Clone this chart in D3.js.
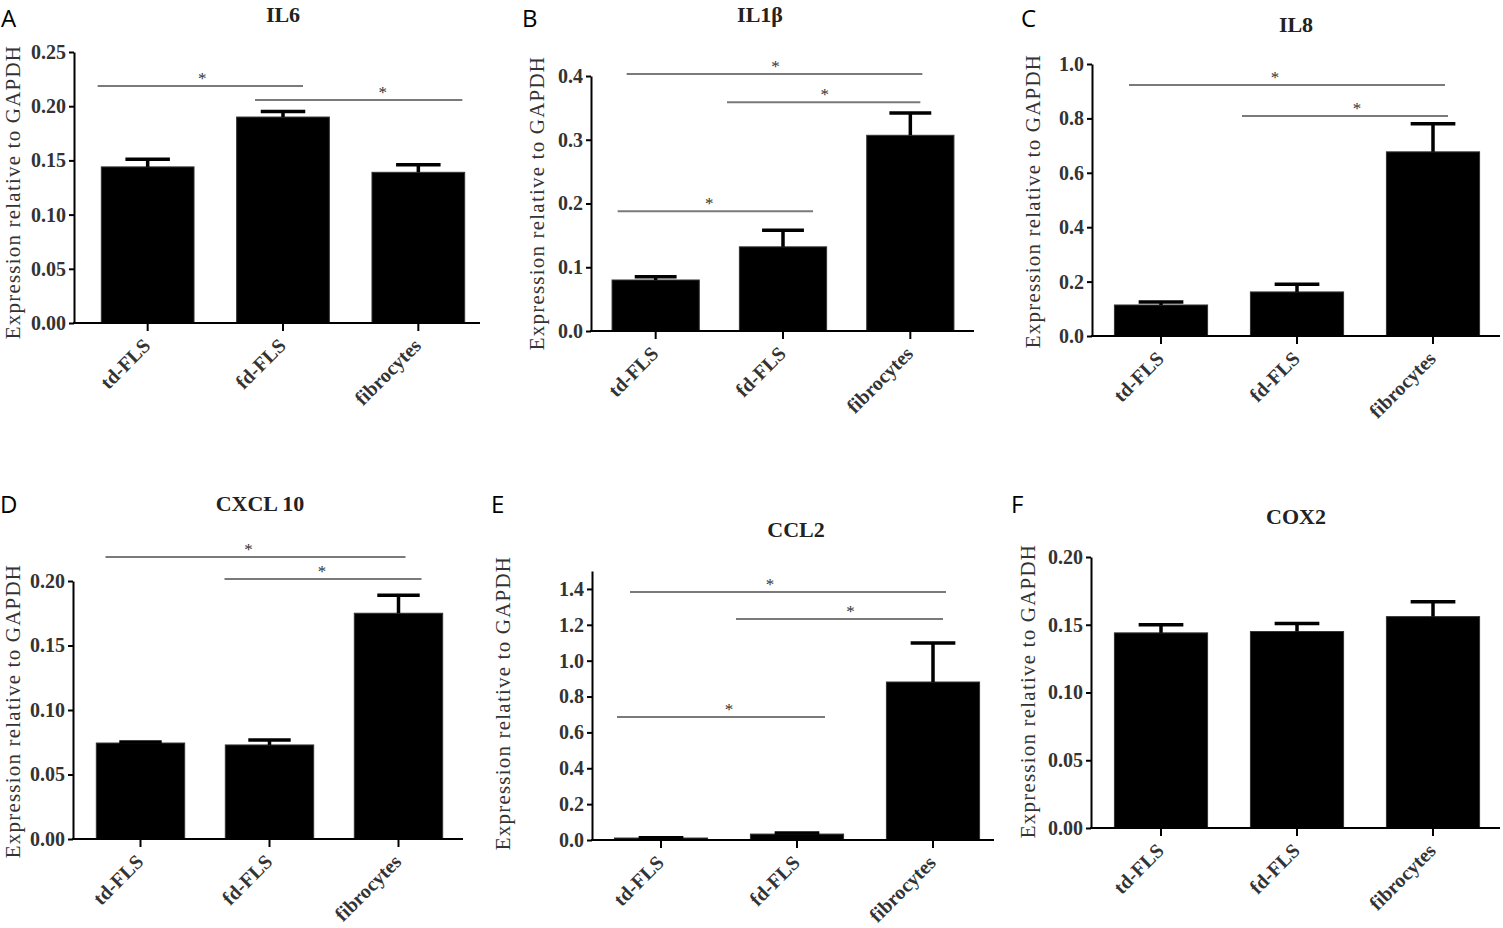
<!DOCTYPE html>
<html>
<head>
<meta charset="utf-8">
<script src="https://cdn.jsdelivr.net/npm/d3@7/dist/d3.min.js"></script>
<style>
  body { margin: 0; background: #fff; }
  svg { display: block; }
</style>
</head>
<body>
<div id="figure"></div>
<script>
// data (mean and SEM, relative to GAPDH)
const categories = ["td-FLS", "fd-FLS", "fibrocytes"];
const titles = ["IL6", "IL1β", "IL8", "CXCL 10", "CCL2", "COX2"];
const letters = ["A", "B", "C", "D", "E", "F"];

const il6Mean = [0.144, 0.190, 0.139];
const il6Sem = [0.007, 0.005, 0.007];
const il1bMean = [0.080, 0.132, 0.307];
const il1bSem = [0.005, 0.026, 0.035];
const il8Mean = [0.114, 0.162, 0.677];
const il8Sem = [0.011, 0.028, 0.103];
const cxcl10Mean = [0.0744, 0.0729, 0.175];
const cxcl10Sem = [0.0008, 0.0038, 0.014];
const ccl2Mean = [0.011, 0.033, 0.881];
const ccl2Sem = [0.002, 0.006, 0.217];
const cox2Mean = [0.144, 0.145, 0.156];
const cox2Sem = [0.006, 0.006, 0.011];

const ticks020 = [0, 0.05, 0.10, 0.15, 0.20];
const ticks025 = [0, 0.05, 0.10, 0.15, 0.20, 0.25];
const ticks04 = [0, 0.1, 0.2, 0.3, 0.4];
const ticks10 = [0, 0.2, 0.4, 0.6, 0.8, 1.0];
const ticks14 = [0, 0.2, 0.4, 0.6, 0.8, 1.0, 1.2, 1.4];

// significant comparisons (indexes into categories)
const sigIL6 = [[0, 1], [1, 2]];
const sigIL1b = [[0, 2], [1, 2], [0, 1]];
const sigIL8 = [[0, 2], [1, 2]];
const sigCXCL10 = [[0, 2], [1, 2]];
const sigCCL2 = [[0, 2], [1, 2], [0, 1]];
const sigCOX2 = [];

const yLabel = "Expression relative to GAPDH";

const W = 1503, H = 928;
const svg = d3.select("#figure").append("svg")
  .attr("width", W)
  .attr("height", H);

// panel layout: axis placement, band range, text positions, bracket geometry
const panels = [
  {mean: il6Mean, sem: il6Sem, ticks: ticks025, fmt: ".2f", max: 0.25, sig: sigIL6,
   ax: 74, axEnd: 480, y0: 323, yTop: 52, band: [80, 486],
   title: [283, 22], letter: [1, 27], ylab: [20, 192],
   br: [[0.2186, -50, 20, 2], [0.2057, -28, 44, 24]]},
  {mean: il1bMean, sem: il1bSem, ticks: ticks04, fmt: ".1f", max: 0.4, sig: sigIL1b,
   ax: 591, axEnd: 974, y0: 331, yTop: 76, band: [592, 974],
   title: [760, 22], letter: [522, 27], ylab: [544, 203],
   br: [[0.403, -29, 12, 1], [0.359, -56, 10, 1], [0.188, -38, 30, -6]]},
  {mean: il8Mean, sem: il8Sem, ticks: ticks10, fmt: ".1f", max: 1.0, sig: sigIL8,
   ax: 1092, axEnd: 1500, y0: 336, yTop: 64, band: [1093, 1501],
   title: [1296, 32], letter: [1021, 27], ylab: [1040, 201],
   br: [[0.923, -32, 12, -12], [0.809, -55, 15, 12]]},
  {mean: cxcl10Mean, sem: cxcl10Sem, ticks: ticks020, fmt: ".2f", max: 0.20, sig: sigCXCL10,
   ax: 73, axEnd: 463, y0: 839, yTop: 581, band: [76, 463],
   title: [260, 511], letter: [0, 513], ylab: [20, 711],
   br: [[0.2186, -35, 7, -7], [0.2016, -45, 23, -1]]},
  {mean: ccl2Mean, sem: ccl2Sem, ticks: ticks14, fmt: ".1f", max: 1.5, sig: sigCCL2,
   ax: 592, axEnd: 994, y0: 840, yTop: 571, band: [593, 1001],
   title: [796, 537], letter: [491, 513], ylab: [510, 703],
   br: [[1.383, -31, 13, -18], [1.233, -61, 10, 11], [0.686, -44, 28, 8]]},
  {mean: cox2Mean, sem: cox2Sem, ticks: ticks020, fmt: ".2f", max: 0.20, sig: sigCOX2,
   ax: 1091, axEnd: 1500, y0: 828, yTop: 557, band: [1093, 1501],
   title: [1296, 524], letter: [1011, 513], ylab: [1035, 691],
   br: []}
];

const serif = "'Liberation Serif', 'Times New Roman', serif";

panels.forEach((p, i) => {
  let g = svg.append("g");

  let x = d3.scaleBand()
    .domain(categories)
    .range(p.band)
    .paddingInner(0.315)
    .paddingOuter(0.1575);

  let y = d3.scaleLinear()
    .domain([0, p.max])
    .range([p.y0, p.yTop]);

  let bars = categories.map((c, j) => ({cat: c, mean: p.mean[j], sem: p.sem[j]}));

  // bars
  g.selectAll("rect.bar")
    .data(bars)
    .enter().append("rect")
    .attr("class", "bar")
    .attr("x", d => x(d.cat))
    .attr("y", d => y(d.mean))
    .attr("width", x.bandwidth())
    .attr("height", d => y(0) - y(d.mean))
    .attr("fill", "#000")
    .attr("stroke", "#333")
    .attr("stroke-width", 1);

  // upper error bars
  let capW = x.bandwidth() * 0.48;
  let eb = g.selectAll("g.err")
    .data(bars)
    .enter().append("g")
    .attr("class", "err");
  eb.append("line")
    .attr("x1", d => x(d.cat) + x.bandwidth() / 2)
    .attr("x2", d => x(d.cat) + x.bandwidth() / 2)
    .attr("y1", d => y(d.mean))
    .attr("y2", d => y(d.mean + d.sem))
    .attr("stroke", "#000")
    .attr("stroke-width", 3.5);
  eb.append("line")
    .attr("x1", d => x(d.cat) + x.bandwidth() / 2 - capW / 2)
    .attr("x2", d => x(d.cat) + x.bandwidth() / 2 + capW / 2)
    .attr("y1", d => y(d.mean + d.sem))
    .attr("y2", d => y(d.mean + d.sem))
    .attr("stroke", "#000")
    .attr("stroke-width", 3.5);

  // y axis
  let yAxis = d3.axisLeft(y)
    .tickValues(p.ticks)
    .tickFormat(d3.format(p.fmt))
    .tickSize(5)
    .tickPadding(3)
    .tickSizeOuter(0);
  let yg = g.append("g")
    .attr("transform", `translate(${p.ax},0)`)
    .call(yAxis);
  yg.select(".domain").attr("stroke", "#000").attr("stroke-width", 2);
  yg.selectAll(".tick line").attr("stroke", "#000").attr("stroke-width", 2);
  yg.selectAll(".tick text")
    .attr("fill", "#333")
    .style("font-family", serif)
    .style("font-weight", "bold")
    .style("font-size", "20px");

  // x axis
  let xAxis = d3.axisBottom(x).tickSize(8).tickSizeOuter(0).tickFormat("");
  let xg = g.append("g")
    .attr("transform", `translate(0,${p.y0})`)
    .call(xAxis);
  xg.select(".domain").remove();
  xg.selectAll(".tick line").attr("stroke", "#000").attr("stroke-width", 2);
  g.append("line")
    .attr("x1", p.ax - 1)
    .attr("x2", p.axEnd)
    .attr("y1", y(0))
    .attr("y2", y(0))
    .attr("stroke", "#000")
    .attr("stroke-width", 2);

  g.selectAll("text.xlab")
    .data(categories)
    .enter().append("text")
    .attr("class", "xlab")
    .attr("transform", d => `translate(${x(d) + x.bandwidth() / 2 + 4},${p.y0 + 24}) rotate(-45)`)
    .attr("text-anchor", "end")
    .attr("fill", "#333")
    .style("font-family", serif)
    .style("font-weight", "bold")
    .style("font-size", "20px")
    .text(d => d);

  // y label
  g.append("text")
    .attr("transform", `translate(${p.ylab[0]},${p.ylab[1]}) rotate(-90)`)
    .attr("text-anchor", "middle")
    .attr("fill", "#333")
    .style("font-family", serif)
    .style("font-size", "21px")
    .style("letter-spacing", "1.2px")
    .text(yLabel);

  // title
  g.append("text")
    .attr("x", p.title[0])
    .attr("y", p.title[1])
    .attr("text-anchor", "middle")
    .attr("fill", "#222")
    .style("font-family", serif)
    .style("font-weight", "bold")
    .style("font-size", "22px")
    .text(titles[i]);

  // panel letter
  g.append("text")
    .attr("x", p.letter[0])
    .attr("y", p.letter[1])
    .attr("fill", "#000")
    .style("font-family", "'Open Sans', sans-serif")
    .style("font-size", "24px")
    .text(letters[i]);

  // significance brackets
  p.sig.forEach((s, k) => {
    let b = p.br[k];
    let cx1 = x(categories[s[0]]) + x.bandwidth() / 2 + b[1];
    let cx2 = x(categories[s[1]]) + x.bandwidth() / 2 + b[2];
    let ly = y(b[0]);
    g.append("line")
      .attr("x1", cx1)
      .attr("x2", cx2)
      .attr("y1", ly)
      .attr("y2", ly)
      .attr("stroke", "#7a7a7a")
      .attr("stroke-width", 2);
    g.append("text")
      .attr("x", (cx1 + cx2) / 2 + b[3])
      .attr("y", ly - 2)
      .attr("text-anchor", "middle")
      .attr("fill", "#333")
      .style("font-family", serif)
      .style("font-size", "17px")
      .text("*");
  });
});
</script>
</body>
</html>
